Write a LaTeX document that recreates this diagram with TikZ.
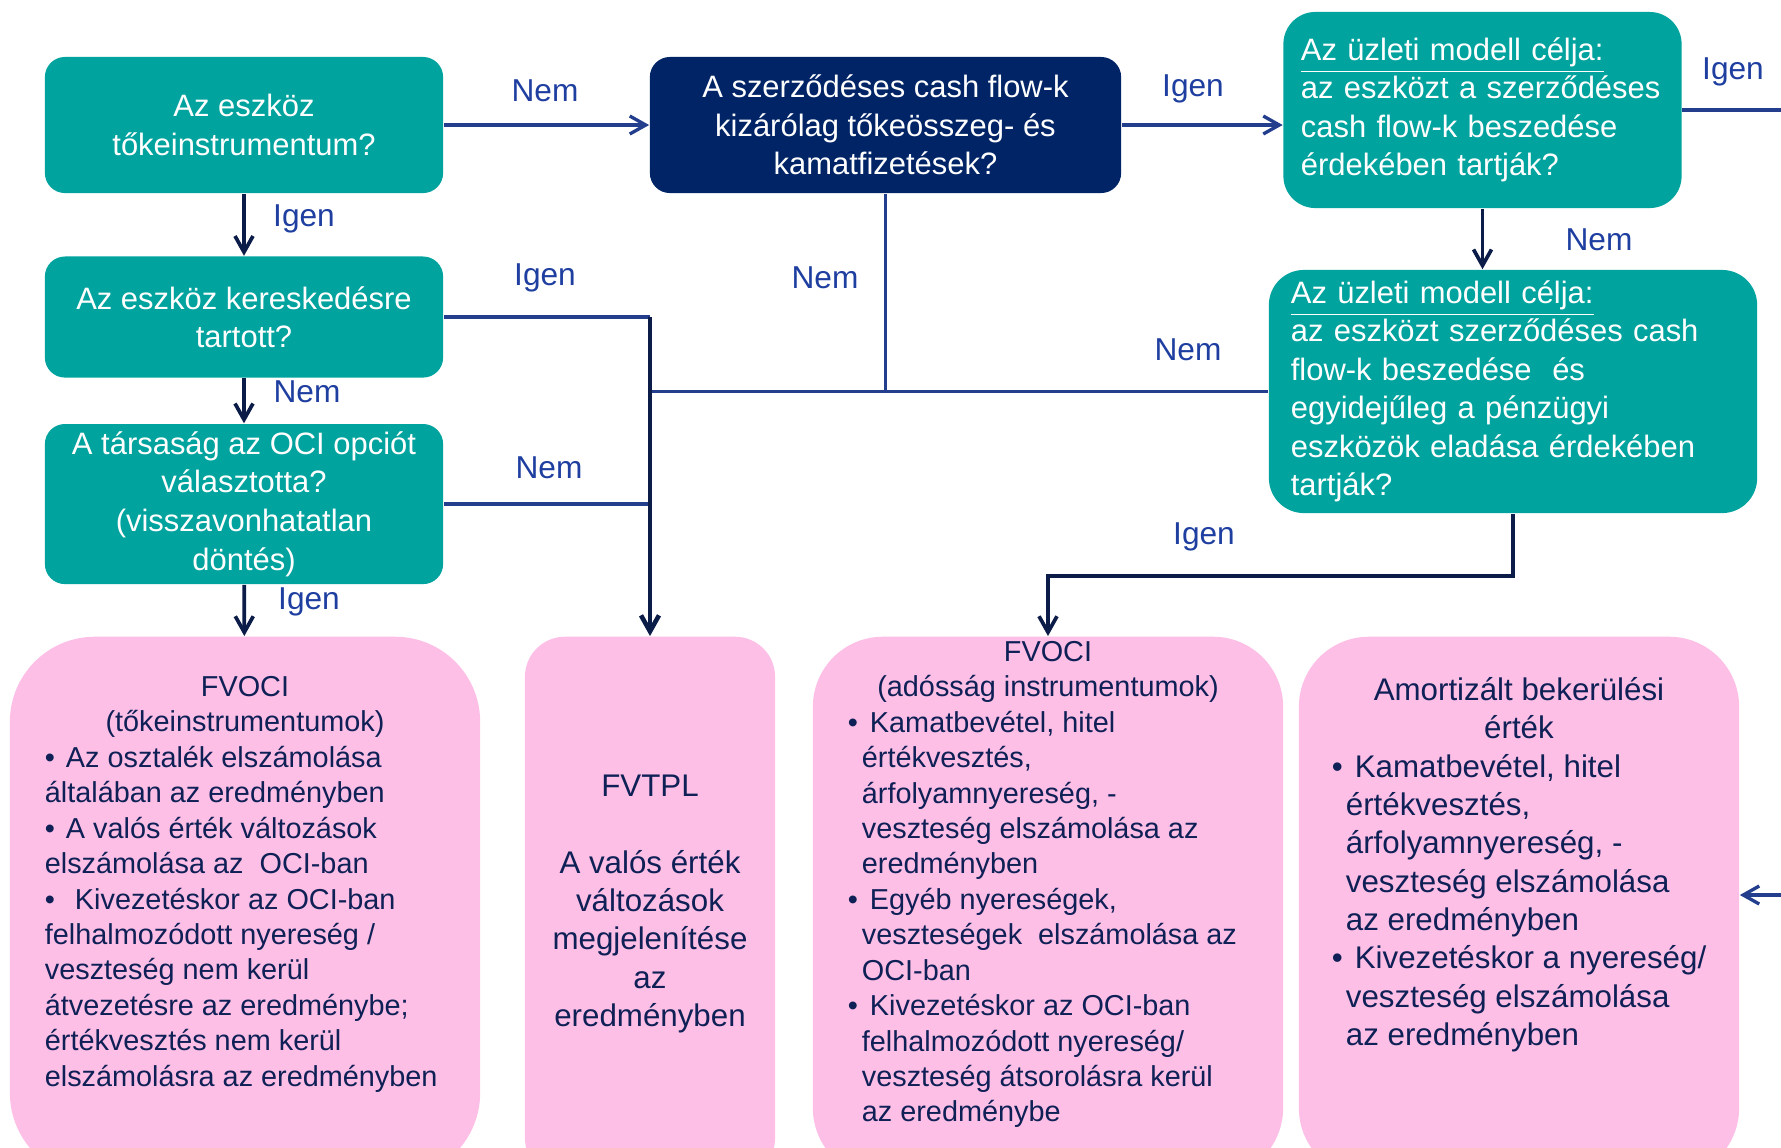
\documentclass[tikz,border=0pt]{standalone}
\usepackage{fontspec}
\setmainfont{Liberation Sans}
\usepackage{tikz}
\usetikzlibrary{arrows.meta,positioning}
\definecolor{tealbox}{RGB}{0,163,158}
\definecolor{navybox}{RGB}{0,36,102}
\definecolor{pinkfill}{RGB}{253,191,230}
\definecolor{pinktext}{RGB}{14,32,86}
\definecolor{flowblue}{RGB}{34,62,140}
\definecolor{flowdark}{RGB}{12,28,72}
\definecolor{labelblue}{RGB}{30,62,160}
\newcommand{\tealfont}{\fontsize{8.8pt}{10.95pt}\selectfont}
\newcommand{\pinkfont}{\fontsize{8.2pt}{10.07pt}\selectfont}
\newcommand{\bigpinkfont}{\fontsize{8.9pt}{10.9pt}\selectfont}
\newcommand{\contl}{\hspace*{0.14cm}}
\tikzset{
	question/.style={
		rectangle, rounded corners=0.2cm, fill=tealbox,
		text=white, font=\tealfont, align=center,
		inner xsep=0.1cm, inner ysep=0.03cm, minimum width=3.98cm
	},
	cashq/.style={question, fill=navybox, minimum width=4.71cm, minimum height=1.36cm},
	goal/.style={question, align=left, rounded corners=0.32cm},
	outcome/.style={
		rectangle, fill=pinkfill, text=pinktext,
		anchor=north, inner sep=0pt
	},
	flow/.style={draw=flowblue, line width=0.95pt, -{Straight Barb[length=1.6mm,width=1.8mm]}},
	flowdark/.style={flow, draw=flowdark, line width=1.05pt},
	link/.style={flow, -},
	linkdark/.style={flowdark, -},
	answer/.style={text=labelblue, font=\fontsize{9pt}{11pt}\selectfont}
}
\begin{document}
\begin{tikzpicture}[x=0.01cm,y=-0.01cm]
	\useasboundingbox (0,0) rectangle (1781,1147);
	\clip (0,0) rectangle (1781,1147);
	% questions
	\node[question, minimum height=1.36cm] (equity) at (244,125) {Az eszköz\\tőkeinstrumentum?};
	\node[question, minimum height=1.21cm] (trading) [below=0.62cm of equity] {Az eszköz kereskedésre\\tartott?};
	\node[question, minimum height=1.6cm] (ocioption) [below=0.45cm of trading] {A társaság az OCI opciót\\választotta?\\(visszavonhatatlan\\döntés)};
	\node[cashq] (sppi) at (885.5,125) {A szerződéses cash flow-k\\kizárólag tőkeösszeg- és\\kamatfizetések?};
	\node[goal, text width=3.63cm, inner xsep=0.17cm, minimum height=1.96cm] (hold) at (1482.5,110)
		{\underline{Az üzleti modell célja:}\\az eszközt a szerződéses\\cash flow-k beszedése\\érdekében tartják?};
	\node[goal, text width=4.44cm, inner xsep=0.22cm, minimum height=2.43cm, rounded corners=0.35cm] (holdsell) at (1513,391.5)
		{\underline{Az üzleti modell célja:}\\az eszközt szerződéses cash\\flow-k beszedése~ és\\egyidejűleg a pénzügyi\\eszközök eladása érdekében\\tartják?};
	% outcomes
	\node[outcome, rounded corners=0.85cm] (fvociEq) at (245,636) {\parbox[c][5.41cm][t]{4.7cm}{\pinkfont
		\vspace*{0.35cm}\centering\strut FVOCI\\(tőkeinstrumentumok)\par
		\raggedright\leftskip=0.35cm
		•\hspace{0.11cm}Az osztalék elszámolása\\
		általában az eredményben\\
		•\hspace{0.11cm}A valós érték változások\\
		elszámolása az~ OCI-ban\\
		•\hspace{0.2cm}Kivezetéskor az OCI-ban\\
		felhalmozódott nyereség /\\
		veszteség nem kerül\\
		átvezetésre az eredménybe;\\
		értékvesztés nem kerül\\
		elszámolásra az eredményben}};
	\node[outcome, rounded corners=0.4cm] (fvtpl) at (650,636) {\parbox[c][5.41cm][t]{2.5cm}{\bigpinkfont
		\vspace*{1.33cm}\centering\strut FVTPL\\[\baselineskip]A valós érték\\változások\\megjelenítése\\az\\eredményben}};
	\node[outcome, rounded corners=0.7cm] (fvociDebt) at (1048,636) {\parbox[c][5.41cm][t]{4.7cm}{\pinkfont
		\centering\strut FVOCI\\(adósság instrumentumok)\par
		\raggedright\leftskip=0.35cm
		•\hspace{0.12cm}Kamatbevétel, hitel\\
		\contl értékvesztés,\\
		\contl árfolyamnyereség, -\\
		\contl veszteség elszámolása az\\
		\contl eredményben\\
		•\hspace{0.12cm}Egyéb nyereségek,\\
		\contl veszteségek~ elszámolása az\\
		\contl OCI-ban\\
		•\hspace{0.12cm}Kivezetéskor az OCI-ban\\
		\contl felhalmozódott nyereség/\\
		\contl veszteség átsorolásra kerül\\
		\contl az eredménybe}};
	\node[outcome, rounded corners=0.7cm] (amort) at (1519,636) {\parbox[c][5.41cm][t]{4.4cm}{\bigpinkfont
		\vspace*{0.37cm}\centering\strut Amortizált bekerülési\\érték\par
		\raggedright\leftskip=0.33cm
		•\hspace{0.12cm}Kamatbevétel, hitel\\
		\contl értékvesztés,\\
		\contl árfolyamnyereség, -\\
		\contl veszteség elszámolása\\
		\contl az eredményben\\
		•\hspace{0.12cm}Kivezetéskor a nyereség/\\
		\contl veszteség elszámolása\\
		\contl az eredményben}};
	% connectors
	\coordinate (merge) at (fvtpl.north |- holdsell.west);
	\coordinate (exitR) at (1781,110);
	\coordinate (entryR) at (1781,895);
	\draw[flow] (equity) -- (sppi);
	\draw[flowdark] (equity) -- (trading);
	\draw[flowdark] (trading) -- (ocioption);
	\draw[flowdark] (ocioption) -- (fvociEq);
	\draw[link] (trading.east) -- (trading.east -| merge);
	\draw[link] (ocioption.east) -- (ocioption.east -| merge);
	\draw[link] (sppi.south) |- (merge);
	\draw[link] (holdsell.west) -- (merge);
	\draw[linkdark] (trading.east -| merge) -- (merge);
	\draw[flowdark, line width=1.3pt] (merge) -- (fvtpl.north);
	\draw[flow] (sppi) -- (sppi -| hold.west);
	\draw[link] (hold) -- (exitR);
	\draw[flow] (entryR) -- (entryR -| amort.east);
	\draw[flowdark] (hold.south) -- (hold.south |- holdsell.north);
	\draw[flowdark] (holdsell.south) -- ++(0,62) -| (fvociDebt.north);
	% answers
	\node[answer] (nemSppi) at (545,91) {Nem};
	\node[answer] (igenTrading) at (304,219) {Igen};
	\node[answer] (nemOci) at (307,392) {Nem};
	\node[answer] (igenFvoci) at (309,602) {Igen};
	\node[answer] (igenFvtpl) at (545,278) {Igen};
	\node[answer] (nemDown) at (825,278) {Nem};
	\node[answer] (nemHoldsell) at (1188,350) {Nem};
	\node[answer] (nemOption) at (549,468) {Nem};
	\node[answer] (igenHold) at (1193,89) {Igen};
	\node[answer] (igenExit) at (1733,72) {Igen};
	\node[answer] (nemHold) at (1599,240) {Nem};
	\node[answer] (igenDebt) at (1204,537) {Igen};
\end{tikzpicture}
\end{document}
